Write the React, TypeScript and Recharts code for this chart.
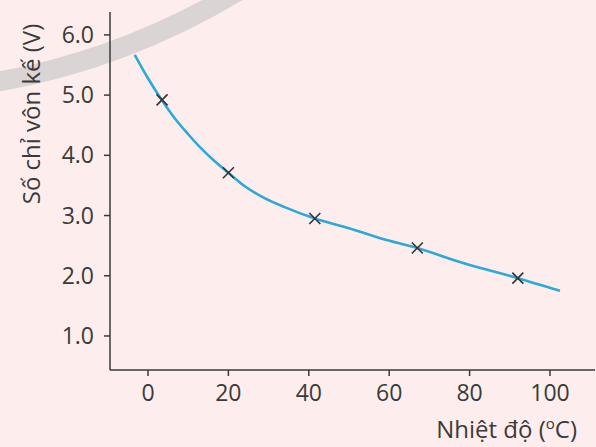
import { ComposedChart, Line, Scatter, XAxis, YAxis } from 'recharts';

// fitted curve
const curveTemp = [-3.3, 0, 3.3, 6.6, 10, 13.3, 16.6, 20, 24, 29, 34, 41.5, 50, 58, 67, 78.4, 92, 102.5];
const curveVolt = [5.67, 5.28, 4.93, 4.62, 4.35, 4.11, 3.9, 3.71, 3.49, 3.29, 3.14, 2.95, 2.79, 2.62, 2.46, 2.21, 1.96, 1.75];

// measured points (crosses)
const pointTemp = [3.5, 20, 41.5, 67, 92];
const pointVolt = [4.92, 3.71, 2.95, 2.46, 1.96];

const xTicks = [0, 20, 40, 60, 80, 100];
const yTicks = [1, 2, 3, 4, 5, 6];

const curveData = curveTemp.map((t, i) => ({ t, v: curveVolt[i] }));
const pointData = pointTemp.map((t, i) => ({ t, v: pointVolt[i] }));

const FONT = '"Open Sans", "Noto Sans", sans-serif';
const INK = '#3a3a3a';

const Cross = (props: any) => {
  const { cx, cy } = props;
  const s = 5.5;
  return (
    <path
      d={`M${cx - s},${cy - s}L${cx + s},${cy + s}M${cx - s},${cy + s}L${cx + s},${cy - s}`}
      stroke="#333"
      strokeWidth={1.6}
      fill="none"
    />
  );
};

const XLabel = (props: any) => {
  const { viewBox } = props;
  const x = viewBox.x + viewBox.width - 18;
  const y = viewBox.y + 68;
  return (
    <text x={x} y={y} textAnchor="end" fill={INK} fontSize={24} fontFamily={FONT}>
      Nhiệt độ (
      <tspan fontSize={15} dy={-9}>o</tspan>
      <tspan dy={9}>C)</tspan>
    </text>
  );
};

const YLabel = () => (
  <text
    x={0}
    y={0}
    transform="translate(40,114) rotate(-90)"
    textAnchor="middle"
    fill={INK}
    fontSize={24}
    fontFamily={FONT}
  >
    Số chỉ vôn kế (V)
  </text>
);

export default function App() {
  return (
    <div
      style={{
        position: 'absolute',
        left: 0,
        top: 0,
        width: 596,
        height: 447,
        background: '#fdeeed',
        overflow: 'hidden',
      }}
    >
      <svg width={596} height={447} style={{ position: 'absolute', left: 0, top: 0 }}>
        <path d="M-30,86 Q112,67 240,-10" stroke="#dbd4d4" strokeWidth={20} fill="none" />
      </svg>
      <div style={{ position: 'absolute', left: 0, top: 0 }}>
        <ComposedChart width={596} height={447} margin={{ top: 12, right: 1, bottom: 0, left: 0 }}>
          <XAxis
            dataKey="t"
            type="number"
            domain={[-9.45, 111.2]}
            ticks={xTicks}
            allowDataOverflow
            height={77}
            stroke={INK}
            strokeWidth={1.5}
            tickSize={6}
            tickMargin={9}
            tick={{ fill: INK, fontSize: 23, fontFamily: FONT }}
            label={<XLabel />}
          />
          <YAxis
            dataKey="v"
            type="number"
            domain={[0.435, 6.38]}
            ticks={yTicks}
            allowDataOverflow
            width={110}
            stroke={INK}
            strokeWidth={1.5}
            tickSize={6}
            tickMargin={10}
            tickFormatter={(v: number) => v.toFixed(1)}
            tick={{ fill: INK, fontSize: 23, fontFamily: FONT }}
            label={<YLabel />}
          />
          <Line
            data={curveData}
            dataKey="v"
            type="monotone"
            stroke="#2ca9d8"
            strokeWidth={2.6}
            dot={false}
            activeDot={false}
            isAnimationActive={false}
          />
          <Scatter data={pointData} dataKey="v" shape={<Cross />} isAnimationActive={false} />
        </ComposedChart>
      </div>
    </div>
  );
}
